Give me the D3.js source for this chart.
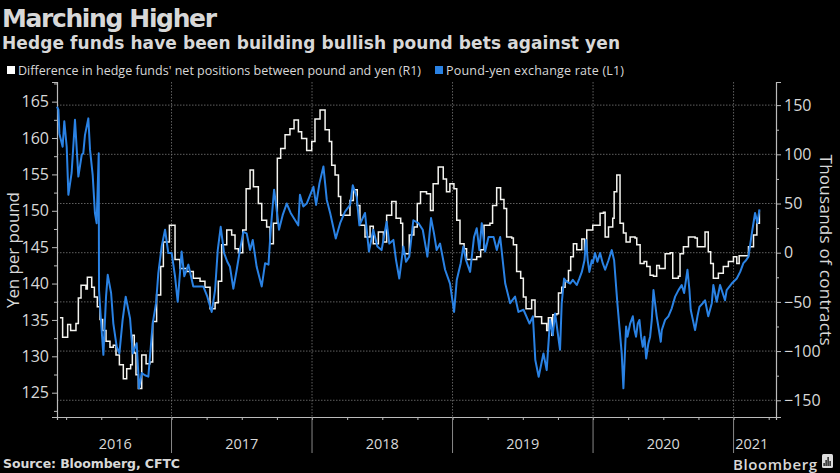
<!DOCTYPE html>
<html lang="en">

<head>
  <meta charset="UTF-8">
  <title>Marching Higher</title>
  <script src="https://d3js.org/d3.v7.min.js"></script>
  <style>
    html, body { margin: 0; padding: 0; background: #000; }
    svg { display: block; }
    text { font-family: "Open Sans", sans-serif; fill: #d8d8d8; }
  </style>
</head>

<body>
</body>

</html>
<script>
  let w = 840;
  let h = 473;

  // hedge fund position difference (thousands of contracts), times in decimal years, weekly steps
  let posTimes = [2016.206, 2016.225, 2016.261, 2016.282, 2016.32, 2016.337, 2016.356, 2016.391, 2016.401, 2016.432, 2016.451, 2016.472, 2016.491, 2016.51, 2016.534, 2016.562, 2016.586, 2016.605, 2016.629, 2016.657, 2016.681, 2016.709, 2016.721, 2016.735, 2016.747, 2016.764, 2016.788, 2016.819, 2016.847, 2016.866, 2016.894, 2016.923, 2016.942, 2016.985,
    2017.025, 2017.06, 2017.108, 2017.155, 2017.203, 2017.238, 2017.274, 2017.31, 2017.333, 2017.357, 2017.393, 2017.428, 2017.452, 2017.476, 2017.507, 2017.531, 2017.559, 2017.583, 2017.618, 2017.642, 2017.677, 2017.701, 2017.725, 2017.753, 2017.777, 2017.808, 2017.843, 2017.872, 2017.903, 2017.926, 2017.962, 2017.998,
    2018.021, 2018.057, 2018.093, 2018.123, 2018.14, 2018.164, 2018.188, 2018.204, 2018.27, 2018.294, 2018.322, 2018.341, 2018.377, 2018.413, 2018.436, 2018.472, 2018.508, 2018.531, 2018.567, 2018.598, 2018.631, 2018.645, 2018.692, 2018.725, 2018.749, 2018.772, 2018.815, 2018.843, 2018.862, 2018.898, 2018.934, 2018.957, 2018.981,
    2019.01, 2019.03, 2019.053, 2019.082, 2019.1, 2019.172, 2019.2, 2019.224, 2019.266, 2019.285, 2019.314, 2019.342, 2019.366, 2019.385, 2019.421, 2019.433, 2019.456, 2019.485, 2019.504, 2019.523, 2019.563, 2019.587, 2019.634, 2019.67, 2019.682, 2019.706, 2019.713, 2019.742, 2019.754, 2019.777, 2019.801, 2019.825, 2019.841, 2019.86, 2019.884, 2019.92, 2019.939, 2019.955, 2019.998,
    2020.05, 2020.074, 2020.086, 2020.11, 2020.14, 2020.15, 2020.169, 2020.192, 2020.216, 2020.235, 2020.264, 2020.299, 2020.311, 2020.335, 2020.363, 2020.382, 2020.406, 2020.43, 2020.453, 2020.472, 2020.513, 2020.549, 2020.567, 2020.607, 2020.619, 2020.643, 2020.679, 2020.726, 2020.742, 2020.797, 2020.82, 2020.837, 2020.856, 2020.892, 2020.927, 2020.963, 2020.999,
    2021.023, 2021.04, 2021.083, 2021.106, 2021.142, 2021.166, 2021.184];
  let posValues = [-66, -86, -73, -79, -72, -46, -33, -37, -25, -35, -45, -55, -68, -79, -90, -96, -94, -104, -114, -128, -118, -114, -84, -102, -124, -138, -104, -113, -111, -70, -43, -14, 11, 28,
    -7, -16, -19, -26, -29, -35, -57, -51, -29, 8, 23, 18, 4, 0, 23, 65, 84, 67, 50, 33, 26, 9, 30, 96, 106, 120, 126, 135, 123, 116, 104, 113,
    136, 145, 125, 113, 89, 79, 57, 38, 53, 64, 48, 28, 16, 27, 9, 21, 11, 38, 52, 35, 30, -1, 18, 26, 50, 62, 60, 43, 70, 87, 75, 62, 70,
    65, 33, 9, 4, -7, -4, 3, 28, 30, 48, 66, 54, 45, 16, 15, 8, -19, -26, -45, -57, -48, -65, -72, -79, -66, -84, -63, -62, -41, -35, -29, -18, -4, 9, 3, 14, 3, 23, 28,
    40, 41, 16, 26, 35, 62, 79, 30, 20, 11, 16, 15, 8, -11, -9, -14, -23, -24, -13, -16, -1, 0, -26, -24, -1, 6, 16, 15, 6, 21, 1, -11, -26, -21, -14, -9, -4,
    -11, -3, -3, 6, 18, 30, 43];

  // pound-yen exchange rate (yen per pound)
  let fxTimes = [2016.185, 2016.195, 2016.202, 2016.225, 2016.237, 2016.254, 2016.266, 2016.289, 2016.313, 2016.337, 2016.361, 2016.372, 2016.384, 2016.408, 2016.42, 2016.439, 2016.455, 2016.467, 2016.482, 2016.484, 2016.496, 2016.515, 2016.534, 2016.546, 2016.57, 2016.586, 2016.61, 2016.629, 2016.652, 2016.674, 2016.705, 2016.724, 2016.752, 2016.769, 2016.788, 2016.811, 2016.835, 2016.866, 2016.89, 2016.906, 2016.93, 2016.954, 2016.977,
    2017.001, 2017.025, 2017.044, 2017.072, 2017.091, 2017.12, 2017.155, 2017.191, 2017.226, 2017.255, 2017.286, 2017.31, 2017.329, 2017.35, 2017.374, 2017.397, 2017.416, 2017.44, 2017.464, 2017.487, 2017.511, 2017.535, 2017.559, 2017.578, 2017.606, 2017.642, 2017.666, 2017.69, 2017.706, 2017.73, 2017.744, 2017.765, 2017.791, 2017.82, 2017.848, 2017.902, 2017.914, 2017.938, 2017.962,
    2018.01, 2018.029, 2018.053, 2018.081, 2018.105, 2018.129, 2018.169, 2018.2, 2018.235, 2018.271, 2018.29, 2018.318, 2018.337, 2018.377, 2018.405, 2018.436, 2018.465, 2018.495, 2018.531, 2018.55, 2018.579, 2018.598, 2018.621, 2018.65, 2018.669, 2018.692, 2018.721, 2018.757, 2018.788, 2018.821, 2018.847, 2018.868, 2018.887, 2018.911, 2018.947, 2018.982,
    2019.011, 2019.03, 2019.058, 2019.077, 2019.096, 2019.125, 2019.153, 2019.172, 2019.191, 2019.208, 2019.232, 2019.256, 2019.292, 2019.315, 2019.339, 2019.375, 2019.41, 2019.445, 2019.469, 2019.505, 2019.548, 2019.572, 2019.589, 2019.613, 2019.647, 2019.67, 2019.694, 2019.713, 2019.73, 2019.765, 2019.777, 2019.794, 2019.808, 2019.837, 2019.856, 2019.884, 2019.903, 2019.92, 2019.939, 2019.95, 2019.962, 2019.974, 2019.991, 2019.998,
    2020.014, 2020.031, 2020.05, 2020.069, 2020.086, 2020.11, 2020.133, 2020.15, 2020.173, 2020.204, 2020.216, 2020.235, 2020.245, 2020.264, 2020.283, 2020.295, 2020.306, 2020.318, 2020.33, 2020.342, 2020.354, 2020.366, 2020.378, 2020.394, 2020.406, 2020.418, 2020.43, 2020.453, 2020.482, 2020.489, 2020.513, 2020.536, 2020.56, 2020.584, 2020.608, 2020.631, 2020.648, 2020.672, 2020.686, 2020.695, 2020.726, 2020.743, 2020.757, 2020.781, 2020.797, 2020.82, 2020.845, 2020.856, 2020.88, 2020.904, 2020.939, 2020.951, 2020.987,
    2021.023, 2021.047, 2021.07, 2021.089, 2021.106, 2021.13, 2021.153, 2021.17, 2021.184];
  let fxValues = [164.3, 163.9, 160.6, 158.8, 162.3, 158.8, 152.2, 155.2, 162.5, 154.7, 157.7, 157.9, 160.4, 162.7, 158.4, 154.9, 149.7, 148.3, 157.9, 139.1, 135.5, 130.2, 138.2, 141.2, 138.7, 134.5, 131.3, 130.4, 135, 138.2, 135.2, 130.4, 131.8, 125.6, 127.7, 127.4, 127.2, 134.5, 137.3, 141.4, 145.1, 147.4, 144.2,
    144.2, 141, 137.5, 144.4, 141, 142.6, 139.6, 139.6, 139.6, 138.2, 136.1, 139.1, 144.6, 147.8, 144.2, 143, 142.3, 139.3, 141.9, 144.6, 147.1, 146.9, 144.6, 146, 142.3, 139.6, 142.8, 142.6, 147.4, 152.9, 150.8, 147.4, 149.4, 151, 149.7, 148, 152.2, 150.6, 151,
    153.3, 150.8, 153.8, 156.1, 151.5, 149.7, 146.2, 148.3, 149.9, 150.8, 153.5, 151.9, 148, 149.7, 144.4, 147.4, 145.1, 144.6, 148.5, 145.5, 146, 143.2, 140.7, 145.1, 143, 143.7, 148.7, 148.3, 147.4, 143.7, 149, 146.9, 144.6, 145.5, 141.9, 140,
    136.1, 140.5, 142.8, 145.1, 143.2, 141.6, 146.4, 147.6, 144.6, 148.3, 144.4, 146.4, 146.4, 144.6, 146.4, 140, 137.3, 138.2, 136.1, 136.4, 134.5, 135.5, 129.5, 127.2, 130.4, 128.1, 135, 132.9, 135.9, 130.9, 137.3, 140.7, 140.3, 140, 140.5, 139.8, 140.7, 141.6, 143.2, 146, 143.2, 141.6, 143.2, 142.8,
    144.2, 143, 144.2, 142.8, 141.9, 143.2, 144.6, 143.2, 137.3, 130.4, 125.6, 134.1, 132.7, 134.5, 135.5, 133.6, 132.7, 134.5, 135, 132.7, 131.3, 132.7, 129.7, 131.8, 132.7, 135, 139.1, 135.5, 132, 133.6, 135, 135.5, 136.6, 138.2, 139.1, 139.8, 138.7, 141.9, 139.1, 136.4, 133.6, 135.5, 136.8, 137.3, 137.7, 135.5, 137.3, 139.8, 137.5, 139.8, 137.7, 139.1, 140,
    140.7, 141.6, 142.8, 143.2, 143.7, 146.9, 149.7, 148.3, 150.2];

  let leftTicks = [125, 130, 135, 140, 145, 150, 155, 160, 165];
  let rightTicks = [-150, -100, -50, 0, 50, 100, 150];
  let years = [2017, 2018, 2019, 2020, 2021];
  let yearLabels = [["2016", 2016.6], ["2017", 2017.5], ["2018", 2018.5], ["2019", 2019.5], ["2020", 2020.5], ["2021", 2021.13]];

  let svg = d3.select("body").append("svg").attr("width", w).attr("height", h)
  svg.append("rect").attr("width", w).attr("height", h).attr("fill", "#000")

  // scales, left = yen, right = contracts
  let x = d3.scaleLinear().domain([2016.185, 2021.302]).range([57, 776])
  let yL = d3.scaleLinear().domain([121.66, 167.7]).range([417, 82])
  let yR = d3.scaleLinear().domain([-167, 173.5]).range([417, 82])

  // dotted grid
  svg.selectAll(".hgrid").data(rightTicks).enter().append("line")
    .attr("x1", 57).attr("x2", 776)
    .attr("y1", d => yR(d)).attr("y2", d => yR(d))
    .attr("stroke", "#777").attr("stroke-width", 0.8).attr("stroke-dasharray", "1.5 1.5")
  svg.selectAll(".vgrid").data(years).enter().append("line")
    .attr("x1", d => x(d)).attr("x2", d => x(d))
    .attr("y1", 82).attr("y2", 417)
    .attr("stroke", "#777").attr("stroke-width", 0.8).attr("stroke-dasharray", "1.5 1.5")

  // axes
  let axisL = d3.axisLeft(yL).tickValues(leftTicks).tickSize(5).tickPadding(3)
  let axisR = d3.axisRight(yR).tickValues(rightTicks).tickSize(5).tickPadding(3)
  let quarters = d3.range(2016.25, 2021.3, 0.25)
  let axisB = d3.axisBottom(x).tickValues(quarters).tickSize(3).tickFormat("")

  let gL = svg.append("g").attr("transform", "translate(57,0)").call(axisL)
  let gR = svg.append("g").attr("transform", "translate(776,0)").call(axisR)
  let gB = svg.append("g").attr("transform", "translate(0,417)").call(axisB)
  // minor ticks on both value axes
  svg.append("g").attr("transform", "translate(57,0)")
    .call(d3.axisLeft(yL).tickValues(d3.range(122.5, 167.6, 5)).tickSize(3).tickFormat(""))
    .select(".domain").remove()
  svg.append("g").attr("transform", "translate(776,0)")
    .call(d3.axisRight(yR).tickValues(d3.range(-125, 175, 50)).tickSize(3).tickFormat(""))
    .select(".domain").remove()

  svg.selectAll(".domain").attr("stroke", "#bbb").attr("stroke-width", 1.2)
  svg.selectAll(".tick line").attr("stroke", "#bbb")
  gL.selectAll("text").attr("font-size", 16).attr("fill", "#d8d8d8")
  gR.selectAll("text").attr("font-size", 16).attr("fill", "#d8d8d8")

  // year separators and labels under the axis
  svg.selectAll(".ysep").data(years).enter().append("line")
    .attr("x1", d => x(d)).attr("x2", d => x(d))
    .attr("y1", 417).attr("y2", 453)
    .attr("stroke", "#888")
  svg.selectAll(".ylab").data(yearLabels).enter().append("text")
    .text(d => d[0])
    .attr("x", d => x(d[1])).attr("y", 449)
    .attr("font-size", 14.5).attr("text-anchor", "middle")

  // lines, white steps first with blue on top
  let posLine = d3.line().x(d => x(d[0])).y(d => yR(d[1])).curve(d3.curveStepAfter)
  let fxLine = d3.line().x(d => x(d[0])).y(d => yL(d[1]))
  svg.append("path").datum(d3.zip(posTimes, posValues)).attr("d", posLine)
    .attr("fill", "none").attr("stroke", "#f4f4f0").attr("stroke-width", 1.5)
  svg.append("path").datum(d3.zip(fxTimes, fxValues)).attr("d", fxLine)
    .attr("fill", "none").attr("stroke", "#2a82e4").attr("stroke-width", 2).attr("stroke-linejoin", "round")

  // titles
  svg.append("text").text("Marching Higher").attr("x", 2).attr("y", 27)
    .attr("font-size", 25).attr("font-weight", 700).attr("fill", "#fff")
    .style("font-family", "'DejaVu Sans', sans-serif").attr("textLength", 215)
  svg.append("text").text("Hedge funds have been building bullish pound bets against yen").attr("x", 2).attr("y", 49)
    .attr("font-size", 17).attr("font-weight", 700).attr("fill", "#fff")
    .style("font-family", "'DejaVu Sans', sans-serif").attr("textLength", 618)

  // legend
  svg.append("rect").attr("x", 7).attr("y", 66).attr("width", 8).attr("height", 8).attr("fill", "#fff")
  svg.append("text").text("Difference in hedge funds' net positions between pound and yen (R1)").attr("x", 18).attr("y", 75)
    .attr("font-size", 12.5).attr("fill", "#e8e8e8").attr("textLength", 403)
  svg.append("rect").attr("x", 435).attr("y", 66).attr("width", 8).attr("height", 8).attr("fill", "#2a82e4")
  svg.append("text").text("Pound-yen exchange rate (L1)").attr("x", 446).attr("y", 75)
    .attr("font-size", 12.5).attr("fill", "#e8e8e8").attr("textLength", 178)

  // axis titles
  svg.append("text").text("Yen per pound").attr("transform", "translate(18.5,250) rotate(-90)")
    .attr("font-size", 17).attr("text-anchor", "middle").attr("textLength", 116)
  svg.append("text").text("Thousands of contracts").attr("transform", "translate(820,250) rotate(90)")
    .attr("font-size", 17).attr("text-anchor", "middle").attr("textLength", 191)

  // footer
  svg.append("text").text("Source: Bloomberg, CFTC").attr("x", 3).attr("y", 468)
    .attr("font-size", 12.5).attr("font-weight", 700).attr("fill", "#e8e8e8")
    .style("font-family", "'DejaVu Sans', sans-serif").attr("textLength", 177)
  svg.append("text").text("Bloomberg").attr("x", 733).attr("y", 470)
    .attr("font-size", 15).attr("font-weight", 600).attr("fill", "#e8e8e8").attr("textLength", 84)
  svg.append("rect").attr("x", 822).attr("y", 454).attr("width", 11).attr("height", 14).attr("rx", 1.5).attr("fill", "#ddd")
  svg.selectAll(".logo").data([3, 6, 9, 5]).enter().append("rect")
    .attr("x", (d, i) => 823.5 + i * 2).attr("y", d => 466 - d).attr("width", 1.2).attr("height", d => d).attr("fill", "#000")
</script>
